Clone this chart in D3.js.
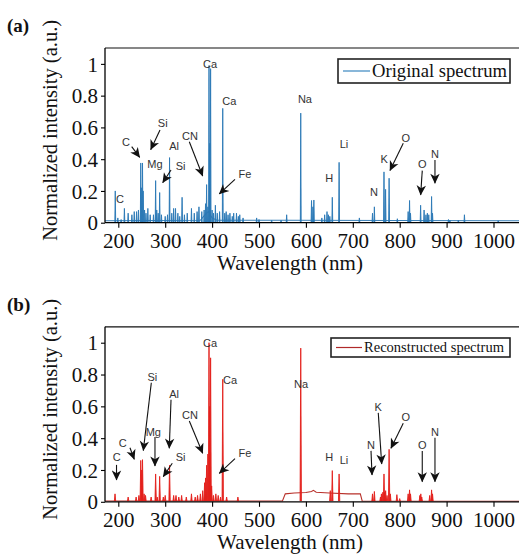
<!DOCTYPE html>
<html><head><meta charset="utf-8">
<script src="https://cdn.jsdelivr.net/npm/d3@7"></script>
<style>body{margin:0;background:#fff}svg{display:block}</style>
</head><body>
<svg id="c" width="519" height="555"></svg>
<script>
// ---------- data ----------
const xTicks = [200, 300, 400, 500, 600, 700, 800, 900, 1000];
const yTicks = [0, 0.2, 0.4, 0.6, 0.8, 1];
const yTickLabels = ["0", "0.2", "0.4", "0.6", "0.8", "1"];

// Original spectrum: peak wavelengths (nm) and normalized intensities
const origWl = [193.5,199,206,213,221,229,234,239,243,247.9,249,251.6,253,256,259,263,268,275,279.6,282,285,288.2,292,300,305,309.3,314,318,322,327,331,336,341,347,356,362,368,372,378,383,386,388.3,391,393.4,395,396.8,400,403,407,411,416,422.7,427,430,434,438,443,446,452,456,459,466,495,500,527,547,559,589,612,615,617,634,640,645,648,651,656.3,670.8,714,742,746,766.5,769.9,777.4,795,818,821,823,844.6,852,856,859,862,868,870,904,907,925,938,1010];
const origInt = [0.20,0.03,0.02,0.09,0.06,0.05,0.07,0.07,0.08,0.376,0.22,0.376,0.20,0.08,0.06,0.09,0.05,0.05,0.265,0.08,0.06,0.19,0.05,0.04,0.05,0.41,0.06,0.09,0.09,0.06,0.04,0.16,0.05,0.06,0.09,0.06,0.07,0.10,0.07,0.08,0.12,0.24,0.10,0.99,0.50,0.97,0.08,0.06,0.11,0.06,0.07,0.72,0.06,0.07,0.05,0.06,0.04,0.06,0.06,0.04,0.05,0.03,0.03,0.02,0.015,0.015,0.05,0.69,0.14,0.10,0.143,0.03,0.05,0.07,0.05,0.04,0.16,0.38,0.03,0.06,0.10,0.32,0.21,0.28,0.025,0.07,0.14,0.06,0.11,0.08,0.05,0.06,0.05,0.165,0.06,0.02,0.015,0.015,0.05,0.012];
const origBaseWl  = [172, 375, 382, 388, 392, 400, 410, 560, 1070];
const origBaseInt = [0.012, 0.015, 0.04, 0.06, 0.07, 0.03, 0.015, 0.015, 0.012];

// Reconstructed spectrum
const recWl = [193,221,238,244,247.9,250,251.6,255,258,270,279.6,283,288.2,296,300,309.3,318,323,329,335,345,356,364,369,375,380,384,386,388.3,391,393.4,395,396.8,399,403,408,413,418,422.7,431,455,589,652,656.3,670.8,742,746,759,761,764,766.5,768,770,773,777.4,780,794,800,818,821,823,843,845,847,864,868,870];
const recInt = [0.05,0.03,0.03,0.04,0.26,0.20,0.265,0.05,0.04,0.03,0.175,0.03,0.16,0.03,0.04,0.23,0.04,0.04,0.03,0.04,0.03,0.05,0.03,0.04,0.05,0.07,0.12,0.15,0.23,0.30,1.0,0.60,0.905,0.10,0.04,0.05,0.04,0.03,0.77,0.03,0.03,0.966,0.07,0.196,0.175,0.05,0.065,0.03,0.05,0.06,0.175,0.06,0.07,0.04,0.33,0.05,0.045,0.02,0.05,0.075,0.05,0.04,0.05,0.03,0.04,0.075,0.05];
const recBaseWl  = [172, 550, 556, 575, 600, 612, 616, 622, 650, 690, 716, 720, 1070];
const recBaseInt = [0.005, 0.005, 0.05, 0.055, 0.058, 0.065, 0.072, 0.06, 0.055, 0.05, 0.05, 0.005, 0.003];

// annotations: [text, wavelength, intensity]
const labelsA = [["C",203.6,0.147],["C",216.4,0.51],["Si",294.7,0.63],["Mg",278.2,0.37],["Al",318.8,0.483],["Si",333,0.357],["CN",352.9,0.546],["Ca",395.5,1.0],["Ca",436.7,0.769],["Fe",470.1,0.307],["Na",598,0.778],["H",649.9,0.28],["Li",681.2,0.496],["N",745.2,0.195],["K",767.1,0.401],["O",812.7,0.536],["O",848.1,0.37],["N",875.2,0.433]];
// arrows: [wl0, int0, wl1, int1] (head at wl1,int1)
const arrowsA = [[228.6,0.479,245.6,0.411],[288.9,0.584,269.1,0.46],[312.4,0.332,294.7,0.252],[351.4,0.51,379.9,0.294],[448.8,0.273,415.3,0.181],[807.6,0.5,779.3,0.328],[848.1,0.328,844.7,0.175],[875.2,0.395,875.2,0.248]];
const labelsB = [["C",196.6,0.284],["C",209.4,0.368],["Si",272.5,0.787],["Mg",274.6,0.441],["Al",318.8,0.678],["Si",333,0.284],["CN",352.9,0.546],["Ca",395.5,0.997],["Ca",438.1,0.767],["Fe",470.1,0.305],["Na",589.5,0.741],["H",649.9,0.284],["Li",681.2,0.263],["N",738.8,0.357],["K",754.3,0.595],["O",812.7,0.532],["O",848.1,0.357],["N",875.2,0.441]];
const arrowsB = [[196.2,0.232,196.2,0.137],[224.9,0.34,234.1,0.267],[270.4,0.748,253.3,0.322],[278.2,0.408,278.2,0.225],[312.4,0.641,308.7,0.337],[315.1,0.242,295.9,0.158],[351.4,0.508,379.9,0.305],[448.8,0.271,415.3,0.179],[738.8,0.32,741,0.169],[754.3,0.559,761.6,0.238],[807.6,0.494,781.4,0.337],[848.1,0.32,848.1,0.126],[875.2,0.402,875.2,0.126]];

// ---------- drawing ----------
const svg = d3.select("#c");
const serif = "'Liberation Serif','Times New Roman',serif";
const sans = "'Liberation Sans',Arial,sans-serif";

const defs = svg.append("defs");
defs.append("marker").attr("id","ah").attr("viewBox","0 0 10 10")
  .attr("refX",9.5).attr("refY",5).attr("markerWidth",11).attr("markerHeight",10)
  .attr("markerUnits","userSpaceOnUse").attr("orient","auto")
  .append("path").attr("d","M0,0.3 L10,5 L0,9.7 L2.8,5 Z").attr("fill","#111");

function panel(o) {
  const x = d3.scaleLinear().domain([200,1000]).range([118.3,493.5]);
  const y = d3.scaleLinear().domain([0,1.1]).range([o.bottom, o.top]);
  const left = 105, right = 540;
  const g = svg.append("g");
  const cid = "clip" + o.id;
  defs.append("clipPath").attr("id",cid).append("rect")
    .attr("x",left).attr("y",o.top).attr("width",right-left).attr("height",o.bottom-o.top);

  const dg = g.append("g").attr("clip-path",`url(#${cid})`);
  // baseline
  const base = o.baseWl.map((w,i)=>[w,o.baseInt[i]]);
  dg.append("path").datum(base)
    .attr("d", d3.line().x(d=>x(d[0])).y(d=>y(d[1])))
    .attr("fill","none").attr("stroke",o.baseColor).attr("stroke-width",1.1);
  // peaks
  const hw = o.hw;
  dg.selectAll("path.pk").data(o.wl.map((w,i)=>[w,o.int[i]])).join("path")
    .attr("class","pk")
    .attr("d", d => d3.line()([[x(d[0]-hw),y(0.005)],[x(d[0]),y(d[1])],[x(d[0]+hw),y(0.005)]]))
    .attr("fill",o.color).attr("stroke",o.color).attr("stroke-width",o.sw).attr("stroke-linejoin","miter");

  // frame
  g.append("line").attr("x1",left).attr("x2",right).attr("y1",o.top).attr("y2",o.top).attr("stroke","#111").attr("stroke-width",1.2);
  // axes
  const ax = g.append("g").attr("transform",`translate(0,${o.bottom})`)
    .call(d3.axisBottom(x).tickValues(xTicks).tickSize(5).tickFormat(d3.format("d")));
  ax.select(".domain").attr("d",`M${left},0H${right}`).attr("stroke-width",1.3);
  ax.selectAll("text").attr("font-family",serif).attr("font-size",21).attr("fill","#111").attr("dy",0).attr("y",25);
  ax.selectAll("line").attr("stroke-width",1.1);
  const ay = g.append("g").attr("transform",`translate(${left},0)`)
    .call(d3.axisLeft(y).tickValues(yTicks).tickSize(4).tickFormat((d,i)=>yTickLabels[i]));
  ay.select(".domain").attr("d",`M0,${o.top}V${o.bottom}`).attr("stroke-width",1.3);
  ay.selectAll("text").attr("font-family",serif).attr("font-size",21).attr("fill","#111").attr("x",-7).attr("dy","0.34em");
  ay.selectAll("line").attr("stroke-width",1.1);

  // titles
  g.append("text").attr("x",290).attr("y",o.bottom+47.5).attr("text-anchor","middle")
    .attr("font-family",serif).attr("font-size",21).attr("fill","#111").text("Wavelength (nm)");
  g.append("text").attr("transform",`translate(57,${(o.top+o.bottom)/2-5}) rotate(-90)`).attr("text-anchor","middle")
    .attr("font-family",serif).attr("font-size",20.5).attr("fill","#111").text("Normalized intensity (a.u.)");
  g.append("text").attr("x",7).attr("y",o.top-16).attr("font-family",serif).attr("font-weight","bold")
    .attr("font-size",19).attr("fill","#111").text(o.tag);

  // legend
  const L = o.legend;
  g.append("rect").attr("x",L.x).attr("y",L.y).attr("width",L.w).attr("height",L.h)
    .attr("fill","#fff").attr("stroke","#222").attr("stroke-width",1.6);
  g.append("line").attr("x1",L.x+5).attr("x2",L.x+L.lineLen).attr("y1",L.y+L.h/2).attr("y2",L.y+L.h/2)
    .attr("stroke",o.legendColor).attr("stroke-width",1.2);
  g.append("text").attr("x",L.x+L.lineLen+2).attr("y",L.y+L.h/2+L.fs*0.33)
    .attr("font-family",serif).attr("font-size",L.fs).attr("fill","#111")
    .attr("textLength",L.tl).attr("lengthAdjust","spacingAndGlyphs").text(o.name);

  // annotations
  g.selectAll("line.arr").data(o.arrows).join("line").attr("class","arr")
    .attr("x1",d=>x(d[0])).attr("y1",d=>y(d[1])).attr("x2",d=>x(d[2])).attr("y2",d=>y(d[3]))
    .attr("stroke","#111").attr("stroke-width",1.1).attr("marker-end","url(#ah)");
  g.selectAll("text.lab").data(o.labels).join("text").attr("class","lab")
    .attr("x",d=>x(d[1])).attr("y",d=>y(d[2])).attr("dy","0.36em").attr("text-anchor","middle")
    .attr("font-family",sans).attr("font-size",11).attr("fill","#333").text(d=>d[0]);
}

panel({id:"a", tag:"(a)", top:48, bottom:222.7, color:"#2a78b6", baseColor:"#3a80b8", legendColor:"#3a86c0", sw:0.9, hw:0.9,
  wl:origWl, int:origInt, baseWl:origBaseWl, baseInt:origBaseInt,
  name:"Original spectrum", legend:{x:338,y:59,w:172,h:24,lineLen:32,fs:19,tl:135},
  labels:labelsA, arrows:arrowsA});
panel({id:"b", tag:"(b)", top:326.8, bottom:501.8, color:"#e3201c", baseColor:"#b8302a", legendColor:"#b02a2a", sw:0.9, hw:1.4,
  wl:recWl, int:recInt, baseWl:recBaseWl, baseInt:recBaseInt,
  name:"Reconstructed spectrum", legend:{x:331,y:338,w:179,h:19,lineLen:31,fs:15,tl:140},
  labels:labelsB, arrows:arrowsB});
</script>
</body></html>
